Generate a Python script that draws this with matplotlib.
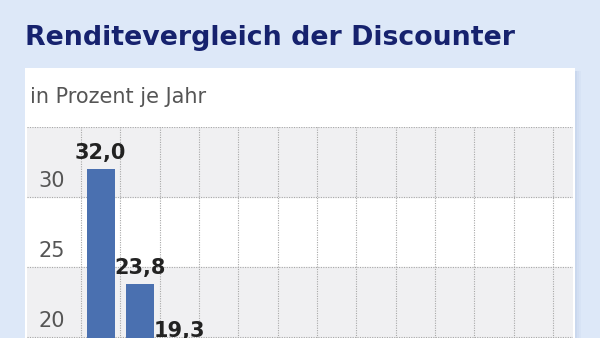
import matplotlib.pyplot as plt
from matplotlib.patches import Rectangle

# Daten (nur der sichtbare Ausschnitt)
werte = [32.0, 23.8, 19.3]
beschriftung = ["32,0", "23,8", "19,3"]
yticks = [20, 25, 30]
n_spalten = 12

fig = plt.figure(figsize=(6, 3.38), dpi=100)
fig.patch.set_facecolor("#dde8f8")

W, H = 600, 338

def fx(px):
    return px / W

def fy(py):
    return 1 - py / H

schrift = ["DejaVu Sans"]

# weisses Panel mit weichem Schatten
for i, a in enumerate([0.5, 0.3, 0.15]):
    fig.patches.append(Rectangle((fx(575 + 2 * i), 0), fx(2), fy(71), transform=fig.transFigure,
                                 facecolor="#b9c9e6", alpha=a, edgecolor="none", zorder=-2))
fig.patches.append(Rectangle((fx(25), 0), fx(550), fy(68), transform=fig.transFigure,
                             facecolor="white", edgecolor="none", zorder=-1))

fig.text(fx(25), fy(38), "Renditevergleich der Discounter", color="#16226e",
         fontsize=19.3, fontweight="bold", va="center", ha="left", family=schrift)
fig.text(fx(30), fy(97), "in Prozent je Jahr", color="#555555", fontsize=15,
         va="center", ha="left", family=schrift)

# Achse: 14 px pro Prozentpunkt, 39.33 px pro Spalte
ax = fig.add_axes([fx(27), 0, fx(546), fy(127)])
ax.set_zorder(1)
ax.set_facecolor("white")
ax.set_ylim(35 - 211 / 14, 35)
ax.set_xlim((27 - 81) / 39.33, (573 - 81) / 39.33)
for s in ax.spines.values():
    s.set_visible(False)
ax.set_xticks([])
ax.set_yticks([])

ax.axhspan(30, 35, color="#f0f0f2", zorder=0)
ax.axhspan(15, 25, color="#f0f0f2", zorder=0)

for k in range(n_spalten + 1):
    ax.axvline(k, color="#a8a8a8", lw=0.8, ls=(0, (1, 1.2)), zorder=1)
for v in yticks + [35]:
    ax.axhline(v, color="#a8a8a8", lw=0.8, ls=(0, (1, 1.2)), zorder=1)

x = [i + 0.5 for i in range(len(werte))]
ax.bar(x, werte, width=0.71, color="#4a70b0", zorder=2)

for xi, v, t in zip(x, werte, beschriftung):
    ax.text(xi, v + 0.4, t, ha="center", va="bottom", fontsize=15, fontweight="bold",
            color="#222222", family=schrift, zorder=3)

for v in yticks:
    ax.text(-0.4, v + 1.15, str(v), ha="right", va="center", fontsize=15,
            color="#555555", family=schrift)

fig.savefig("out.png", dpi=100, facecolor=fig.get_facecolor())
